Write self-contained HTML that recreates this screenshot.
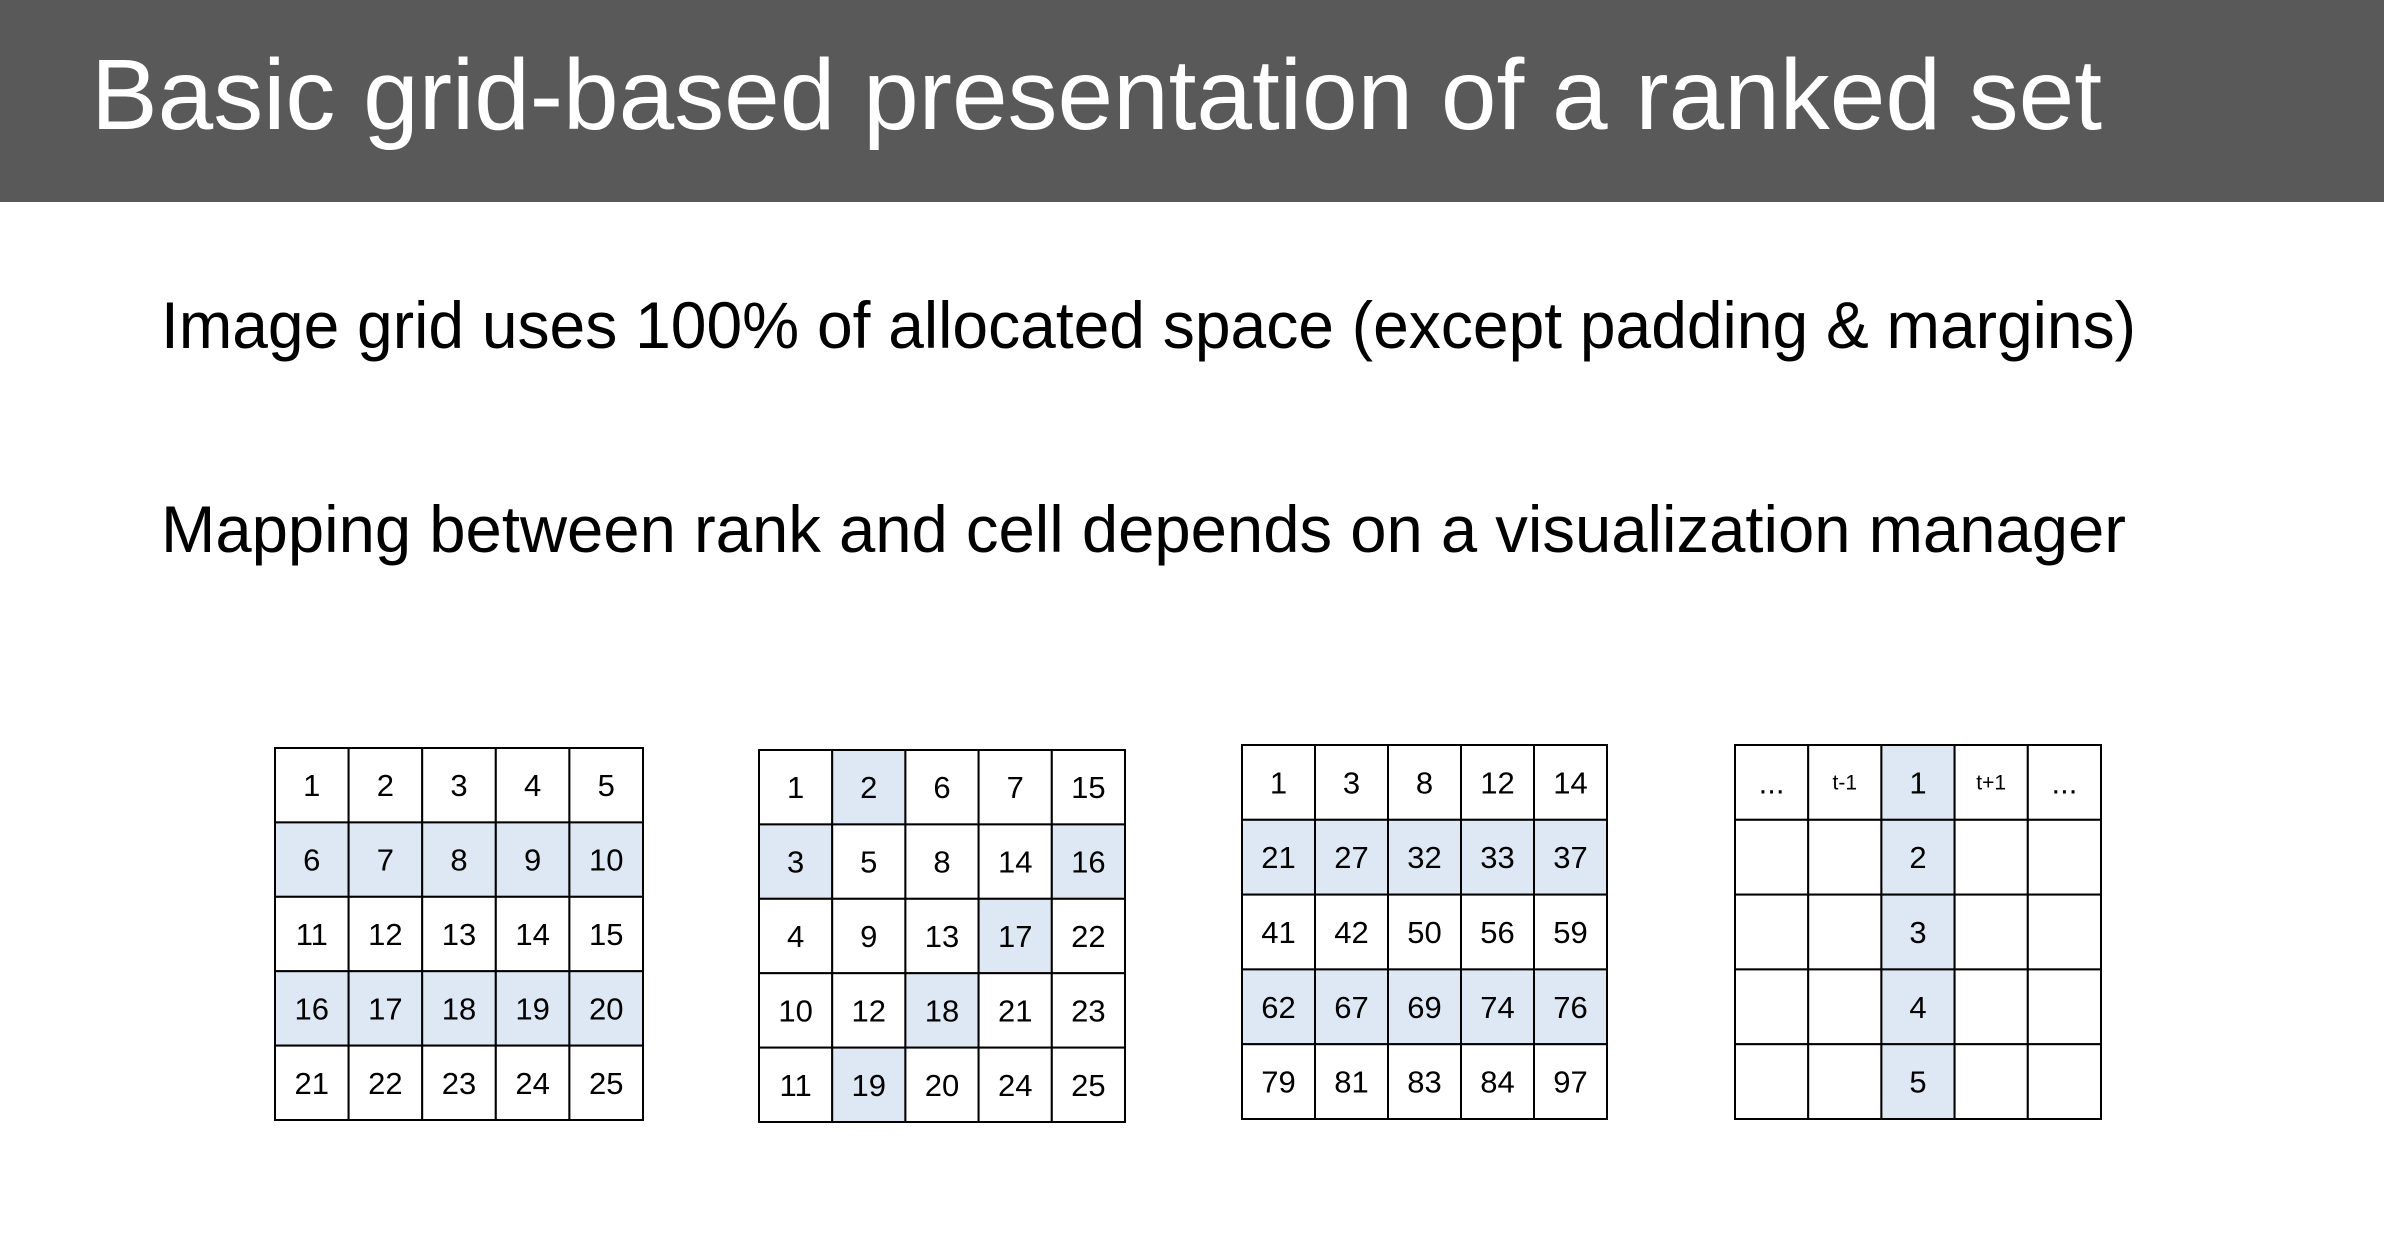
<!DOCTYPE html>
<html><head><meta charset="utf-8"><style>
html,body{margin:0;padding:0;background:#fff;}
svg{display:block;}
text{font-family:"Liberation Sans",sans-serif;}
</style></head><body>
<svg width="2384" height="1258" viewBox="0 0 2384 1258" xmlns="http://www.w3.org/2000/svg">
<rect x="0" y="0" width="2384" height="202" fill="#595959"/>
<text x="91" y="129" font-size="100" fill="#fff" textLength="2011" lengthAdjust="spacingAndGlyphs">Basic grid-based presentation of a ranked set</text>
<text x="161" y="348" font-size="66" fill="#000" textLength="1975" lengthAdjust="spacingAndGlyphs">Image grid uses 100% of allocated space (except padding &amp; margins)</text>
<text x="161" y="552" font-size="66" fill="#000" textLength="1965" lengthAdjust="spacingAndGlyphs">Mapping between rank and cell depends on a visualization manager</text>
<g id="grids" font-size="31" text-anchor="middle" fill="#000"></g>
</svg>
<script>
const grids=[
 {x:275,y:748,w:368,h:372,vals:[[1,2,3,4,5],[6,7,8,9,10],[11,12,13,14,15],[16,17,18,19,20],[21,22,23,24,25]],hl:(r,c)=>r==1||r==3},
 {x:759,y:750,w:366,h:372,vals:[[1,2,6,7,15],[3,5,8,14,16],[4,9,13,17,22],[10,12,18,21,23],[11,19,20,24,25]],hl:(r,c)=>(r==0&&c==1)||(r==1&&(c==0||c==4))||(r==2&&c==3)||(r==3&&c==2)||(r==4&&c==1)},
 {x:1242,y:745,w:365,h:374,vals:[[1,3,8,12,14],[21,27,32,33,37],[41,42,50,56,59],[62,67,69,74,76],[79,81,83,84,97]],hl:(r,c)=>r==1||r==3},
 {x:1735,y:745,w:366,h:374,vals:[["...","t-1",1,"t+1","..."],["","",2,"",""],["","",3,"",""],["","",4,"",""],["","",5,"",""]],hl:(r,c)=>c==2}
];
const g=document.getElementById('grids');const NS="http://www.w3.org/2000/svg";
let s='';
for(const G of grids){
 const cw=G.w/5,ch=G.h/5;
 for(let r=0;r<5;r++)for(let c=0;c<5;c++){
  const x=G.x+c*cw,y=G.y+r*ch;
  s+=`<rect x="${x}" y="${y}" width="${cw}" height="${ch}" fill="${G.hl(r,c)?'#dee8f4':'#fff'}" stroke="#000" stroke-width="2"/>`;
  const v=G.vals[r][c];
  if(v!==""){const small=(v==="t-1"||v==="t+1");
   s+=`<text x="${x+cw/2}" y="${y+ch/2+(small?7:11)}" font-size="${small?21:31}">${v}</text>`;}
 }
}
g.innerHTML=s;
</script>
</body></html>
